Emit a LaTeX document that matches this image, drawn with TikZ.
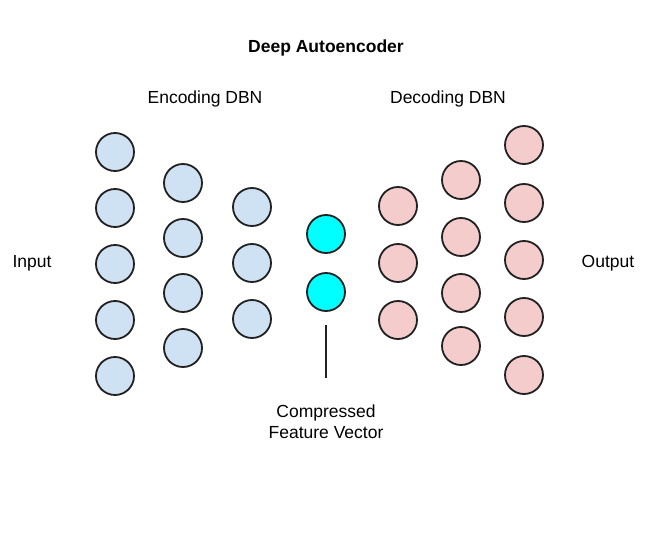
\documentclass[tikz,border=0pt]{standalone}
\usepackage{fontspec}
\setmainfont{Liberation Sans}
\definecolor{encblue}{HTML}{CFE2F3}
\definecolor{decpink}{HTML}{F4CCCC}
\definecolor{codecyan}{HTML}{00FFFF}
\definecolor{rim}{HTML}{222222}
\begin{document}
\begin{tikzpicture}[x=1pt,y=-1pt,
  unit/.style={circle,draw=rim,line width=1.8pt,minimum size=38pt,inner sep=0pt},
  enc/.style={unit,fill=encblue},
  dec/.style={unit,fill=decpink},
  code/.style={unit,fill=codecyan},
  lbl/.style={font=\fontsize{17.5}{21}\selectfont,inner sep=0pt,align=center},
  ttl/.style={lbl,font=\fontsize{17.5}{21}\selectfont\bfseries}]
\useasboundingbox (0,0) rectangle (662,535);
\node[ttl] (title) at (326,48) {Deep Autoencoder};
\node[lbl] (encl) at (205,99) {Encoding DBN};
\node[lbl] (decl) at (448,99) {Decoding DBN};
\node[lbl] (inl) at (32,263) {Input};
\node[lbl] (outl) at (608,263) {Output};
\node[lbl] (cfv) at (326,422) {Compressed\\Feature Vector};
% encoding layer 1
\foreach \y [count=\i] in {152,208,264,320,376} \node[enc] (a\i) at (115,\y) {};
\foreach \y [count=\i] in {183,238,293,348} \node[enc] (b\i) at (183,\y) {};
\foreach \y [count=\i] in {207,263,319} \node[enc] (c\i) at (252,\y) {};
\node[code] (z1) at (326,234) {};
\node[code] (z2) at (326,292) {};
\foreach \y [count=\i] in {206,263,320} \node[dec] (d\i) at (398,\y) {};
\foreach \y [count=\i] in {180,237,293,346} \node[dec] (e\i) at (461,\y) {};
\foreach \y [count=\i] in {145,203,260,317,375} \node[dec] (f\i) at (524,\y) {};
\coordinate (pt) at (326,325);
\coordinate (pb) at (326,378);
\draw[rim,line width=1.8pt] (pt) -- (pb);
\end{tikzpicture}
\end{document}
